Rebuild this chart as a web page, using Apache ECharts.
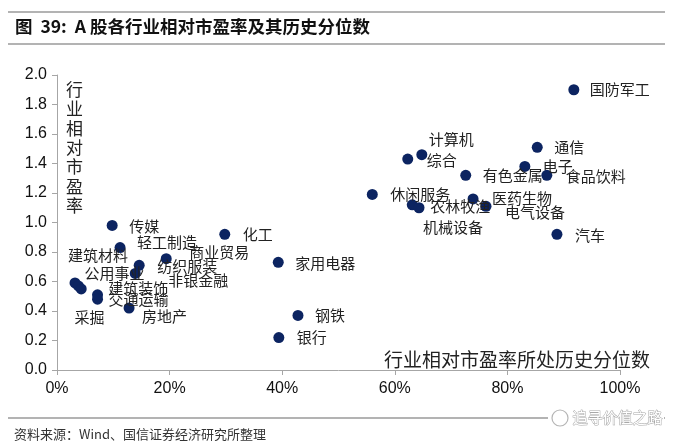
<!DOCTYPE html>
<html>
<head>
<meta charset="utf-8">
<script src="https://cdn.jsdelivr.net/npm/echarts@6/dist/echarts.min.js"></script>
<style>
html, body { margin: 0; padding: 0; background: #fff; }
#chart { width: 673px; height: 448px; }
</style>
</head>
<body>
<div id="chart"></div>
<script>
// 行业名称
var industries = ['国防军工', '通信', '电子', '食品饮料', '有色金属', '计算机', '综合', '休闲服务',
    '农林牧渔', '机械设备', '医药生物', '电气设备', '汽车', '化工', '家用电器', '钢铁', '银行',
    '传媒', '轻工制造', '商业贸易', '纺织服装', '非银金融', '建筑材料', '公用事业', '建筑装饰',
    '交通运输', '采掘', '房地产'];
// 历史分位数 (%)
var percentile = [91.8, 85.3, 83.1, 87.0, 72.6, 64.8, 62.3, 56.0,
    63.1, 64.3, 73.9, 76.2, 88.8, 29.8, 39.3, 42.8, 39.4,
    9.8, 11.2, 19.4, 14.6, 13.9, 3.2, 3.8, 4.3,
    7.2, 7.2, 12.8];
// 行业相对市盈率
var relativePE = [1.90, 1.51, 1.38, 1.32, 1.32, 1.46, 1.43, 1.19,
    1.12, 1.10, 1.16, 1.11, 0.92, 0.92, 0.73, 0.37, 0.22,
    0.98, 0.83, 0.755, 0.71, 0.655, 0.59, 0.57, 0.55,
    0.51, 0.48, 0.42];
var xTicks = [0, 20, 40, 60, 80, 100];
var yTicks = [0, 0.2, 0.4, 0.6, 0.8, 1.0, 1.2, 1.4, 1.6, 1.8, 2.0];

// 标签相对点的偏移 [文字左边距, 垂直偏移]
var labelShift = {
    '国防军工': [16, 0], '通信': [17, 0], '电子': [18, 0], '食品饮料': [19, 1],
    '有色金属': [17, 0], '计算机': [7, -15], '综合': [19, 1], '休闲服务': [18, 0],
    '农林牧渔': [18, 1], '机械设备': [4, 20], '医药生物': [19, -1], '电气设备': [19, 6],
    '汽车': [18, 1], '化工': [18, 0], '家用电器': [17, 1], '钢铁': [17, 0], '银行': [18, 0],
    '传媒': [17, 1], '轻工制造': [17, -5], '商业贸易': [23, -6], '纺织服装': [18, 1],
    '非银金融': [33, 7], '建筑材料': [-7, -28], '公用事业': [6, -13], '建筑装饰': [27, -1],
    '交通运输': [11, 5], '采掘': [-23, 18], '房地产': [13, 8]
};

var cjk = '"Noto Sans CJK SC", sans-serif';
var myChart = echarts.init(document.getElementById('chart'));

var points = industries.map(function (name, i) {
    return { name: name, value: [percentile[i], relativePE[i]] };
});

var option = {
    animation: false,
    backgroundColor: '#fff',
    grid: { left: 57, right: 53, top: 75, bottom: 78 },
    xAxis: {
        type: 'value',
        min: xTicks[0],
        max: xTicks[xTicks.length - 1],
        interval: 20,
        axisLine: { show: true, lineStyle: { color: '#a6a6a6' } },
        axisTick: { show: true, length: 5, lineStyle: { color: '#a6a6a6' } },
        axisLabel: {
            formatter: '{value}%',
            fontFamily: '"Liberation Sans", Arial, sans-serif',
            fontSize: 16,
            color: '#111',
            margin: 11
        },
        splitLine: { show: false }
    },
    yAxis: {
        type: 'value',
        min: yTicks[0],
        max: yTicks[yTicks.length - 1],
        interval: 0.2,
        axisLine: { show: true, lineStyle: { color: '#a6a6a6' } },
        axisTick: { show: true, length: 5, lineStyle: { color: '#a6a6a6' } },
        axisLabel: {
            formatter: function (v) { return v.toFixed(1); },
            fontFamily: '"Liberation Sans", Arial, sans-serif',
            fontSize: 16,
            color: '#111',
            margin: 10
        },
        splitLine: { show: false }
    },
    series: [{
        type: 'scatter',
        symbolSize: 11,
        itemStyle: { color: '#0c2461', opacity: 1 },
        label: {
            show: true,
            position: 'right',
            distance: 0,
            formatter: '{b}',
            fontFamily: cjk,
            fontSize: 15,
            color: '#222'
        },
        labelLayout: function (params) {
            var s = labelShift[industries[params.dataIndex]] || [17, 0];
            return { dx: s[0] - 5.5, dy: s[1], hideOverlap: false };
        },
        data: points
    }],
    graphic: [
        { type: 'line', shape: { x1: 8, y1: 12, x2: 665, y2: 12 }, style: { stroke: '#9a9a9a', lineWidth: 1.5 } },
        { type: 'line', shape: { x1: 8, y1: 44, x2: 665, y2: 44 }, style: { stroke: '#9a9a9a', lineWidth: 1.5 } },
        {
            type: 'text', left: 15, top: 18,
            style: { text: '图  39:  A 股各行业相对市盈率及其历史分位数', font: 'bold 17.5px ' + cjk, fill: '#111' }
        },
        {
            type: 'text', left: 66, top: 80,
            style: { text: '行\n业\n相\n对\n市\n盈\n率', font: '17px ' + cjk, fill: '#222', lineHeight: 19.3 }
        },
        {
            type: 'text', right: 23, top: 350,
            style: { text: '行业相对市盈率所处历史分位数', font: '19px ' + cjk, fill: '#222' }
        },
        { type: 'line', shape: { x1: 8, y1: 418, x2: 665, y2: 418 }, style: { stroke: '#9a9a9a', lineWidth: 1.5 } },
        {
            type: 'text', left: 14, top: 428,
            style: { text: '资料来源：Wind、国信证券经济研究所整理', font: '13px ' + cjk, fill: '#333' }
        },
        { type: 'rect', shape: { x: 548, y: 408, width: 116, height: 22 }, style: { fill: '#fff' } },
        { type: 'circle', shape: { cx: 560, cy: 418, r: 8 }, style: { fill: 'none', stroke: '#b5b5b5', lineWidth: 1.2 } },
        {
            type: 'text', left: 572, top: 409,
            style: { text: '追寻价值之路', font: '15px ' + cjk, fill: '#fff', stroke: '#a8a8a8', lineWidth: 1 }
        }
    ]
};
myChart.setOption(option);
</script>
</body>
</html>
